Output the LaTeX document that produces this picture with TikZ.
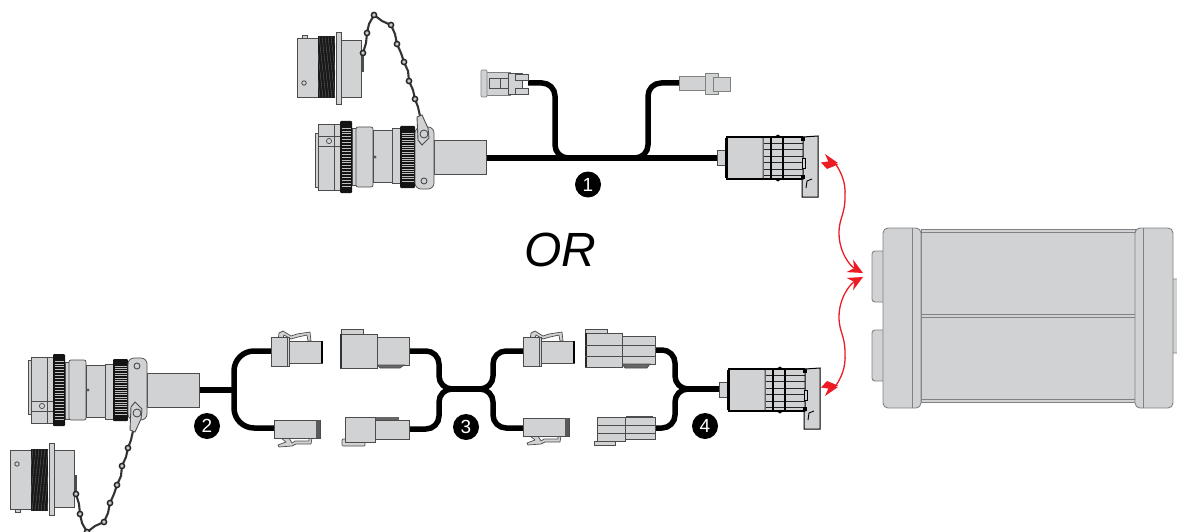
\documentclass[tikz,border=0pt]{standalone}
\usepackage{fontspec}
\setmainfont{Liberation Sans}
\usetikzlibrary{arrows.meta}
\definecolor{partgray}{HTML}{D1D2D4}
\definecolor{edgegray}{HTML}{808184}
\definecolor{linkred}{HTML}{ED1C24}
\tikzset{
  part/.style={fill=partgray,draw=black!70,line width=.7pt},
  softpart/.style={fill=partgray,draw=black!50,line width=.7pt},
  clipstrip/.style={fill=partgray,draw=black!70,line width=.7pt,line join=round},
  darkpart/.style={fill=partgray,draw=black,line width=1pt},
  devicepart/.style={fill=partgray,draw=edgegray,line width=.9pt},
  cable/.style={draw=black,line width=5.5pt,line cap=butt,line join=round},
  ink/.style={draw=black,line width=.9pt},
  chain/.style={draw=black!80,line width=2.1pt,line join=round},
  bead/.style={fill=white!80!black,draw=black!85,line width=1.5pt},
  badge/.style={circle,fill=black,text=white,minimum size=26pt,inner sep=0pt,font=\fontsize{19pt}{19pt}\selectfont},
  redlink/.style={draw=linkred,line width=1.3pt},
}
\newcommand{\knurlring}[4]{%
  \fill[black!92,rounded corners=1pt] (#1,#3) rectangle (#2,#4);
  \foreach \yy in {0,...,20}{
    \draw[black!25,line width=.75pt] (#1+1.5,{#3+7+\yy*(#4-#3-14)/20}) -- (#2-1.5,{#3+7+\yy*(#4-#3-14)/20});
  }
}
\newcommand{\circconn}{%
  % cap
  \draw[part] (297,38) rectangle (318,97);
  \draw[part] (302,35) rectangle (307,38);
  \draw[part,line width=.9pt] (304,83) circle (2.2);
  \begin{scope}
    \clip (318,36) rectangle (335,98);
    \fill[black!90] (318,36) rectangle (335,98);
    \foreach \xx in {310,313,...,335}{
      \draw[black!60,line width=.35pt] (\xx,36) -- (\xx+7,98);
    }
  \end{scope}
  \draw[part] (341,40) rectangle (361,97);
  \draw[part] (336,32) rectangle (341,104);
  \fill[black!70] (361,50) rectangle (364,72);
  % lanyard
  \draw[chain] (420,116) -- (418,107) -- (415,99) -- (413,90) -- (409,81) -- (408,71) -- (404,62) -- (401,53) -- (397,44) -- (395,34) -- (391,25) -- (382,21) -- (374,15) -- (369,24) -- (367,33) -- (366,43) -- (363,53);
  \foreach \px/\py in {415/99,409/81,404/62,397/44,391/25,374/15,367/33,363/53}{
    \draw[bead] (\px,\py) circle (2.6);
  }
  % plug
  \draw[part] (315,133) rectangle (319,187);
  \draw[part] (318,124) rectangle (340,190);
  \draw[part] (318,136) -- (340,136);
  \draw[part] (318,146) -- (340,146);
  \draw[part] (334,124) -- (334,190);
  \draw[part] (329,141) circle (2.6);
  \knurlring{340}{352}{121}{193}
  \draw[part] (352,128) rectangle (356,185);
  \draw[part,rounded corners=2pt] (356,127) rectangle (373,187);
  \draw[part] (373,130) rectangle (392,182);
  \draw[part] (392,128) rectangle (400,183);
  \draw[part] (375,157) circle (1.2);
  \knurlring{400}{415}{126}{188}
  \draw[part] (434,140) rectangle (486,174);
  \draw[part,rounded corners=6pt] (415,127) rectangle (434,189);
  \draw[part,line width=.9pt] (424,181) circle (3);
  \draw[part,line width=.9pt,fill=partgray] (417,117) -- (422,115) -- (428,128) -- (429,138) -- (422,145) -- (418,140) -- cycle;
  \draw[part,line width=.9pt] (424,134) circle (4);
}
\newcommand{\ecuconn}{%
  \draw[part] (717,150) rectangle (726,165);
  \draw[part,rounded corners=1.5pt] (726,137) rectangle (763,179);
  \fill[black] (725,138) rectangle (727.5,178);
  \draw[part] (763,137) rectangle (803,179);
  \foreach \yy in {143,149.5,156,162.5,169,175}{
    \draw[draw=black!85,line width=.8pt] (763,\yy) -- (803,\yy);
  }
  \draw[draw=black!60,line width=.7pt] (763,137) -- (763,179);
  \draw[draw=black,line width=1.2pt] (771,136) -- (771,180);
  \draw[draw=black,line width=1.2pt] (783,136) -- (783,180);
  \draw[draw=black,line width=1.3pt] (726,137) -- (803,137);
  \draw[draw=black,line width=1.3pt] (726,179) -- (803,179);
  \fill[black] (775.5,136) -- (778,134.5) -- (780,136) -- cycle;
  \fill[black] (775.5,180) -- (778,181.5) -- (780,180) -- cycle;
  \draw[darkpart] (803,137) -- (818,136) -- (818,197) -- (802,197) -- (802,179) -- (803,179) -- cycle;
  \fill[black] (801,137) rectangle (805,141);
  \fill[black] (801,175) rectangle (805,179);
  \draw[draw=black,line width=.7pt,fill=partgray] (802,158) rectangle (805,168);
  \draw[ink] (806,188) -- (807,181) -- (812,179);
}
\newcommand{\clipconnupper}{%
  \draw[clipstrip] (278,341) -- (279,333) -- (283,331) -- (291,336) -- (297,334) -- (310,332) -- (311,341) -- (308,341) -- (307,335) -- (298,337) -- (291,339) -- (284,335) -- (282,341) -- cycle;
  \draw[part] (289,341) rectangle (322,363);
  \draw[draw=black,line width=1.1pt] (322,341) -- (322,363);
  \draw[part] (271,337) rectangle (289,366);
  \draw[black!70,line width=.8pt] (287,337) -- (287,366);
}
\newcommand{\clipconnlower}{%
  \draw[clipstrip] (281,438) -- (286,442) -- (278,445) -- (279,447) -- (292,446) -- (296,444) -- (311,444) -- (312,438) -- (309,438) -- (309,441) -- (295,441) -- (292,443) -- (289,438) -- cycle;
  \draw[part] (274,420) rectangle (320,438);
  \fill[black!65] (316,420) rectangle (320,438);
}
\newcommand{\redarrow}{%
  \draw[redlink,-{Stealth[length=15pt,width=14pt,inset=5pt]}] (835,163) .. controls (841,172) and (846,182) .. (845,197)
     .. controls (845,215) and (839,218) .. (839,233) .. controls (839,252) and (850,266) .. (863,273);
  \fill[linkred] (825,154) -- (838,163) -- (829,163) -- cycle;
  \fill[linkred] (821,162.5) -- (831,161) -- (838,164.5) -- (827,169) -- cycle;
}
\begin{document}
\begin{tikzpicture}[x=1pt,y=-1pt]
\useasboundingbox (0,0) rectangle (1177,532);
% named cable ends
\coordinate (up boot) at (486,158);
\coordinate (up ecu) at (717,158);
\coordinate (up small a) at (528,83);
\coordinate (up small b) at (679,83);
\coordinate (low boot) at (199,390);
\coordinate (a top) at (272,351);
\coordinate (a bot) at (275,428);
\coordinate (b top) at (409,351);
\coordinate (b bot) at (409,429);
\coordinate (mid left) at (450,389);
\coordinate (mid right) at (482,389);
\coordinate (c top) at (524,351);
\coordinate (c bot) at (524,428);
\coordinate (d top) at (655,350);
\coordinate (d bot) at (655,428);
\coordinate (end join) at (685,389);
\coordinate (low ecu) at (719,389);
% harness 1
\draw[cable] (up boot) -- (up ecu);
\draw[cable,rounded corners=13pt] (up small a) -- (555,83) -- (555,158) -- (580,158);
\draw[cable,rounded corners=13pt] (up small b) -- (648,83) -- (648,158) -- (625,158);
% harness 2-4
\draw[cable,line width=6.5pt] (low boot) -- (234,390);
\draw[cable,rounded corners=20pt] (a top) -- (234,351) -- (234,428) -- (a bot);
\draw[cable,rounded corners=13pt] (b top) -- (439,351) -- (439,389) -- (mid left);
\draw[cable,rounded corners=13pt] (b bot) -- (439,429) -- (439,389) -- (mid left);
\draw[cable] (mid left) -- (mid right);
\draw[cable,rounded corners=13pt] (c top) -- (493,351) -- (493,389) -- (mid right);
\draw[cable,rounded corners=13pt] (c bot) -- (493,428) -- (493,389) -- (mid right);
\draw[cable,rounded corners=13pt] (d top) -- (675,350) -- (675,389) -- (end join);
\draw[cable,rounded corners=13pt] (d bot) -- (675,428) -- (675,389) -- (end join);
\draw[cable] (end join) -- (low ecu);
% circular connectors
\circconn
\begin{scope}[shift={(-287,547)},yscale=-1]
  \circconn
\end{scope}
% receptacles
\ecuconn
\begin{scope}[shift={(2,232)}]
  \ecuconn
\end{scope}
% small connector left on harness 1
\draw[softpart] (485,72) rectangle (510,95);
\draw[softpart,rounded corners=1pt] (481,70) rectangle (487,97);
\draw[part] (489,78) rectangle (512,88);
\draw[part] (500,78) rectangle (508,88);
\draw[part] (508,73) rectangle (522,94);
\draw[part] (515,74) rectangle (528,80);
\draw[part] (515,88) rectangle (528,94);
% small connector right on harness 1
\draw[softpart] (679,76) rectangle (705,90);
\draw[softpart] (705,73) rectangle (718,94);
\draw[softpart] (713,77) rectangle (730,91);
% type A connectors
\clipconnupper
\clipconnlower
\begin{scope}[shift={(252,0)}]
  \clipconnupper
\end{scope}
\begin{scope}[shift={(249,-2)}]
  \clipconnlower
\end{scope}
% type B top
\draw[part] (341,329) rectangle (363,334);
\draw[part] (377,337) rectangle (409,365);
\draw[part,fill=black!60] (377,365) -- (404,365) -- (400,368) -- (380,368) -- cycle;
\draw[part] (340,334) rectangle (377,368);
\fill[black!80] (340,334) rectangle (342,368);
% type B bottom
\draw[part,rounded corners=1pt] (342,439) rectangle (365,446);
\draw[part] (375,420) rectangle (409,439);
\fill[black!60] (375,417) rectangle (399,420);
\draw[part] (345,417) rectangle (375,442);
% type D top
\draw[part] (585,329) rectangle (607,333);
\draw[part] (622,336) rectangle (655,364);
\draw[part,fill=black!60] (622,364) -- (650,364) -- (647,368) -- (625,368) -- cycle;
\draw[part] (585,333) rectangle (622,367);
\fill[black!85] (585,333) rectangle (587,367);
\draw[part] (585,345) -- (655,345);
\draw[part] (585,356) -- (655,356);
% type D bottom
\draw[part] (594,441) rectangle (615,445);
\draw[part] (625,417) rectangle (655,439);
\fill[black!70] (626,416) rectangle (653,418);
\draw[part] (597,417) rectangle (625,441);
\draw[part] (597,425) -- (655,425);
\draw[part] (597,433) -- (655,433);
% device
\draw[devicepart,rounded corners=3pt] (872,251) rectangle (890,302);
\draw[devicepart,rounded corners=3pt] (872,330) rectangle (890,381);
\draw[devicepart,rounded corners=3pt] (1165,279) rectangle (1180,353);
\draw[devicepart] (921,229) rectangle (1135,402);
\draw[devicepart] (921,232) -- (1135,232);
\draw[devicepart] (921,399) -- (1135,399);
\draw[devicepart] (921,314) -- (1135,314);
\draw[devicepart] (921,317) -- (1135,317);
\draw[devicepart,rounded corners=5pt] (883,228) rectangle (921,408);
\draw[devicepart,rounded corners=5pt] (1135,228) rectangle (1173,408);
\draw[devicepart] (912,228) -- (912,408);
\draw[devicepart] (1143,228) -- (1143,408);
% red links
\redarrow
\begin{scope}[shift={(0,550)},yscale=-1]
  \redarrow
\end{scope}
% labels
\node[badge] (badge one) at (588,184.5) {1};
\node[badge] (badge two) at (207,426) {2};
\node[badge] (badge three) at (466,427) {3};
\node[badge] (badge four) at (705,426) {4};
\node (or label) at (560,250) {\fontsize{48pt}{48pt}\selectfont\itshape OR};
\end{tikzpicture}
\end{document}
